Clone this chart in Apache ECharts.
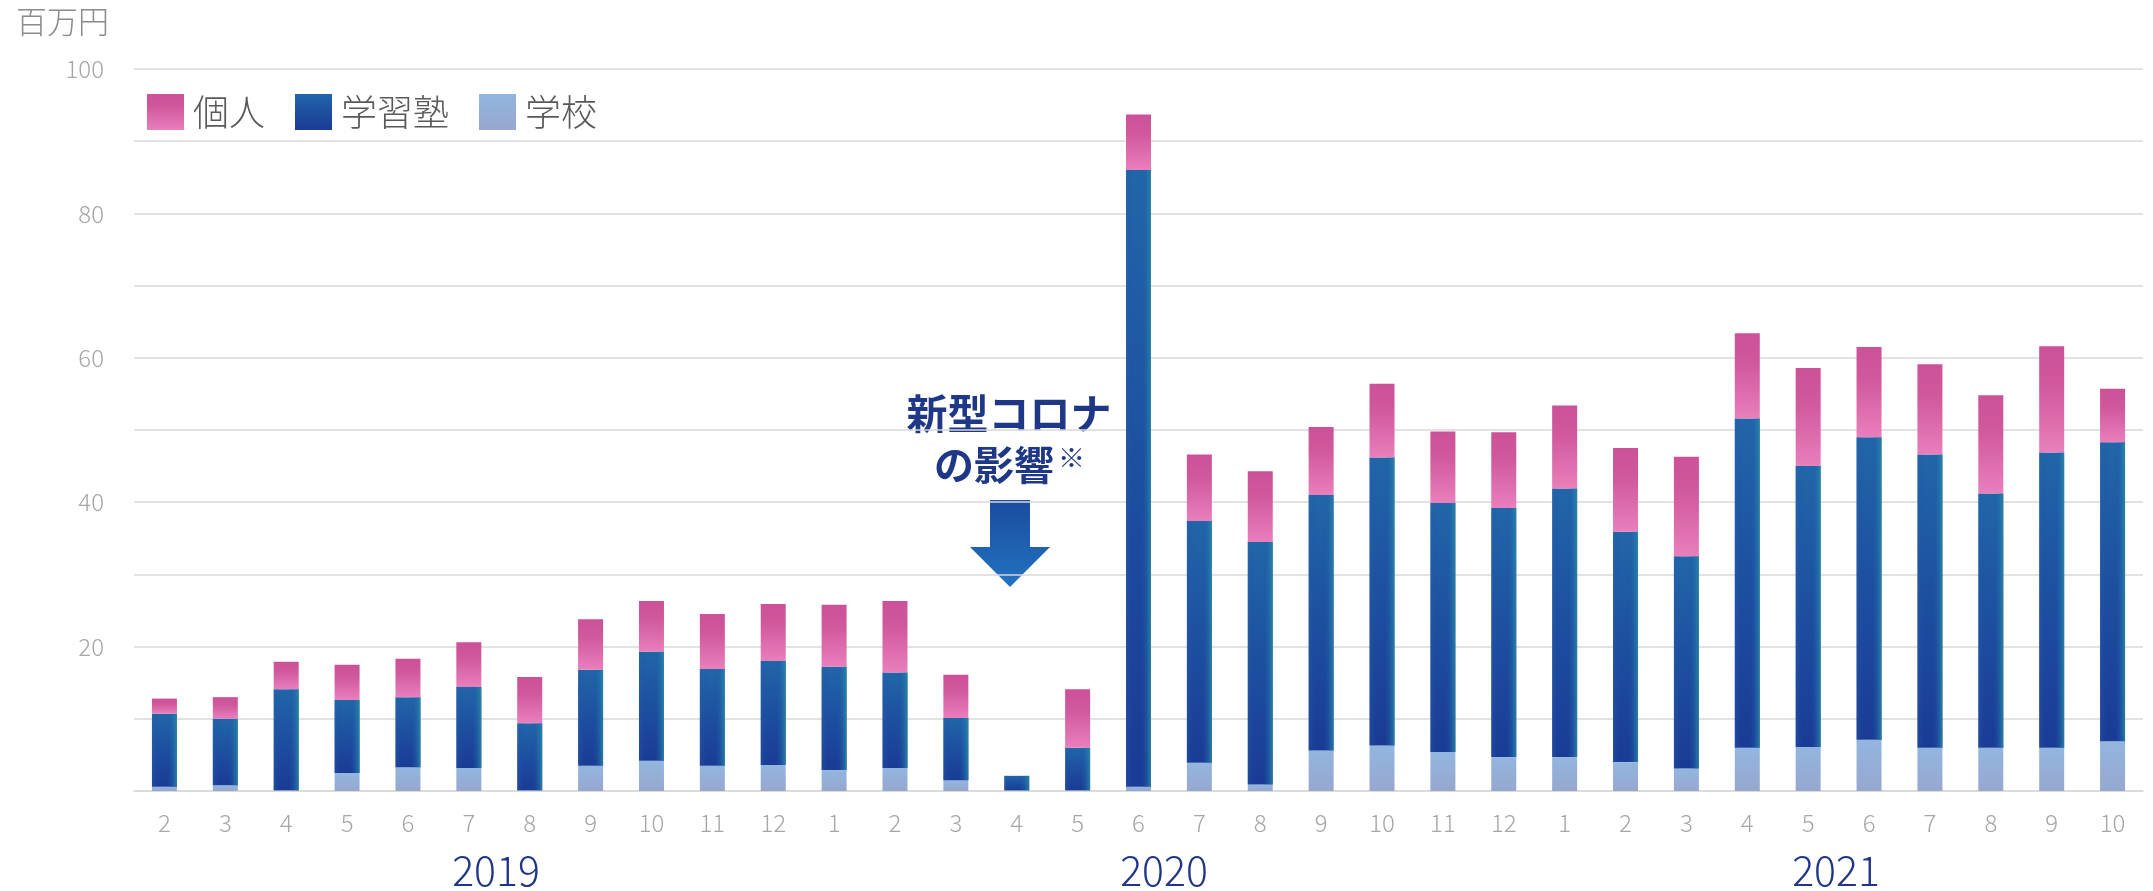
<!DOCTYPE html>
<html>
<head>
<meta charset="utf-8">
<script src="https://cdn.jsdelivr.net/npm/echarts@6/dist/echarts.min.js"></script>
<style>
html,body{margin:0;padding:0;background:#fff;}
#c{width:2153px;height:891px;}
</style>
</head>
<body>
<div id="c"></div>
<script>
const months = ['2','3','4','5','6','7','8','9','10','11','12','1','2','3','4','5','6','7','8','9','10','11','12','1','2','3','4','5','6','7','8','9','10'];
const years = ['2019','2020','2021'];
const school = [0.6,0.8,0.1,2.5,3.3,3.2,0.1,3.5,4.2,3.5,3.6,2.9,3.2,1.5,0.1,0.1,0.6,3.9,0.9,5.6,6.3,5.4,4.7,4.7,4.0,3.1,6.0,6.1,7.1,6.0,6.0,6.0,6.9];
const juku = [10.1,9.2,14.0,10.1,9.7,11.2,9.3,13.3,15.1,13.4,14.4,14.3,13.2,8.6,2.0,5.9,85.4,33.5,33.6,35.4,39.9,34.5,34.5,37.2,31.9,29.4,45.6,38.9,41.9,40.6,35.2,40.9,41.4];
const personal = [2.1,3.0,3.8,4.9,5.3,6.2,6.4,7.0,7.0,7.6,7.9,8.6,9.9,6.0,0,8.1,7.7,9.2,9.8,9.4,10.2,9.9,10.5,11.5,11.6,13.8,11.8,13.6,12.5,12.5,13.6,14.7,7.4];
const seriesNames = ['個人','学習塾','学校'];
const unitLabel = '百万円';
const noteLine1 = '新型コロナ';
const noteLine2 = 'の影響';
const noteMark = '※';

const FONT = "'Noto Sans CJK JP', 'Noto Sans', sans-serif";
const lin = (x, y, x2, y2, stops) => ({type:'linear', x, y, x2, y2, colorStops: stops.map(s => ({offset:s[0], color:s[1]}))});

const chart = echarts.init(document.getElementById('c'));
const BW = 25;
const option = {
  animation: false,
  backgroundColor: '#ffffff',
  textStyle: {fontFamily: FONT},
  grid: {left: 134, right: 10, top: 69, bottom: 100, containLabel: false},
  legend: {
    data: seriesNames,
    icon: 'rect',
    left: 142, top: 89,
    itemWidth: 37, itemHeight: 36, itemGap: 30,
    textStyle: {fontSize: 36, color: '#595959', fontFamily: FONT, fontWeight: 300, padding: [0,0,0,4], lineHeight: 36}
  },
  xAxis: {
    type: 'category', data: months,
    axisLine: {show: true, lineStyle: {color: '#d9d9d9', width: 1.5}},
    axisTick: {show: false},
    axisLabel: {color: '#a6a6a6', fontSize: 24, margin: 20, fontFamily: FONT, fontWeight: 300, interval: 0}
  },
  yAxis: {
    type: 'value', min: 0, max: 100, interval: 10,
    axisLine: {show: false}, axisTick: {show: false},
    splitLine: {lineStyle: {color: '#d9d9d9', width: 1.5}},
    axisLabel: {color: '#a6a6a6', fontSize: 24, margin: 30, fontFamily: FONT, fontWeight: 300,
      formatter: v => (v !== 0 && v % 20 === 0 ? String(v) : '')}
  },
  series: [
    {name: '学校', type: 'bar', stack: 'a', barWidth: BW, data: school,
      itemStyle: {color: lin(0,0,0,1,[[0,'#92b6df'],[1,'#97a7cf']])}},
    {name: '学習塾', type: 'bar', stack: 'a', barWidth: BW, data: juku,
      itemStyle: {color: lin(0,0,0,1,[[0,'#2166a9'],[0.5,'#1d4f9f'],[1,'#1a3b95']])}},
    {name: '個人', type: 'bar', stack: 'a', barWidth: BW, data: personal,
      itemStyle: {color: lin(0,0,0,1,[[0,'#cc5199'],[0.35,'#d0589c'],[1,'#e97fbd']])}},
    {name: 'base2', type: 'bar', stack: 'b', barWidth: BW, data: school, silent: true,
      itemStyle: {color: 'rgba(0,0,0,0)'}},
    {name: 'overlay', type: 'bar', stack: 'b', barWidth: BW, barGap: '-100%', data: juku, silent: true,
      itemStyle: {color: lin(0,0,1,0,[[0,'rgba(40,100,175,0.35)'],[0.3,'rgba(30,70,160,0.0)'],[0.6,'rgba(30,70,160,0.0)'],[0.85,'rgba(36,120,175,0.45)'],[1,'rgba(42,140,158,0.85)']])}}
  ],
  graphic: [
    {type: 'text', left: 16, top: 6, style: {text: unitLabel, fontSize: 31, fill: '#8c8c8c', fontFamily: FONT, fontWeight: 300}},
    {type: 'text', x: 496, y: 870, style: {text: years[0], fontSize: 41, fill: '#1f3588', fontFamily: FONT, fontWeight: 300, align: 'center', verticalAlign: 'middle'}},
    {type: 'text', x: 1164, y: 870, style: {text: years[1], fontSize: 41, fill: '#1f3588', fontFamily: FONT, fontWeight: 300, align: 'center', verticalAlign: 'middle'}},
    {type: 'text', x: 1836, y: 870, style: {text: years[2], fontSize: 41, fill: '#1f3588', fontFamily: FONT, fontWeight: 300, align: 'center', verticalAlign: 'middle'}},
    {type: 'text', x: 1009, y: 413, style: {text: noteLine1, fontSize: 41, fontWeight: 'bold', fill: '#1e3887', fontFamily: FONT, align: 'center', verticalAlign: 'middle'}},
    {type: 'text', x: 994, y: 465, style: {text: noteLine2, fontSize: 40, fontWeight: 'bold', fill: '#1e3887', fontFamily: FONT, align: 'center', verticalAlign: 'middle'}},
    {type: 'text', x: 1058, y: 458, style: {text: noteMark, fontSize: 27, fontWeight: 'bold', fill: '#1e3887', fontFamily: FONT, align: 'left', verticalAlign: 'middle'}},
    {type: 'polygon', shape: {points: [[990,500],[1030,500],[1030,547],[1050,547],[1010,587],[970,547],[990,547]]},
      style: {fill: lin(0,0,0,1,[[0,'#1b4c9d'],[1,'#2273c3']])}}
  ]
};
chart.setOption(option);
</script>
</body>
</html>
